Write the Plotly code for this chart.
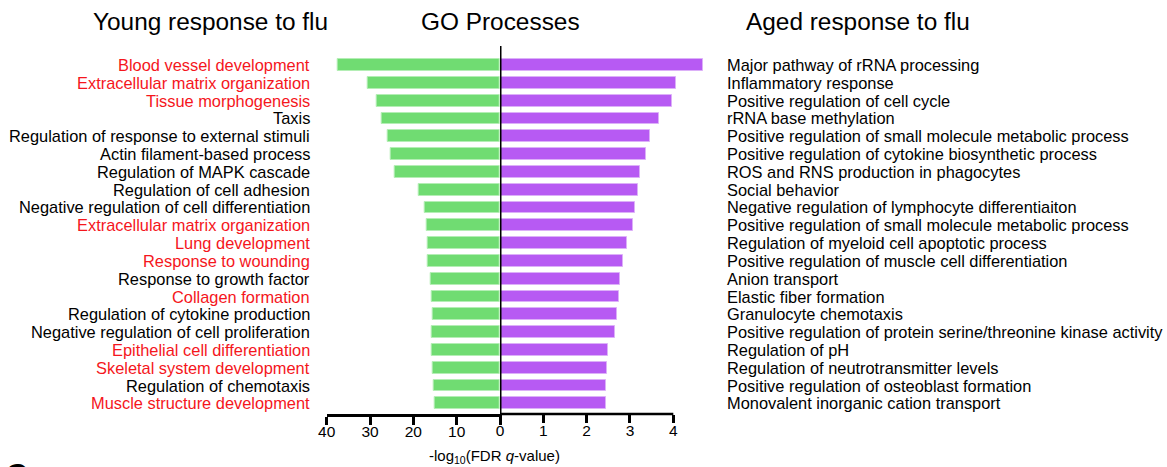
import plotly.graph_objects as go

# GO processes enriched in each age group
young_terms = [
    "Blood vessel development", "Extracellular matrix organization", "Tissue morphogenesis",
    "Taxis", "Regulation of response to external stimuli", "Actin filament-based process",
    "Regulation of MAPK cascade", "Regulation of cell adhesion",
    "Negative regulation of cell differentiation", "Extracellular matrix organization",
    "Lung development", "Response to wounding", "Response to growth factor",
    "Collagen formation", "Regulation of cytokine production",
    "Negative regulation of cell proliferation", "Epithelial cell differentiation",
    "Skeletal system development", "Regulation of chemotaxis", "Muscle structure development",
]
young_highlight = [True, True, True, False, False, False, False, False, False, True,
                   True, True, False, True, False, False, True, True, False, True]
young_values = [37.5, 30.5, 28.5, 27.2, 25.9, 25.3, 24.4, 18.8, 17.4, 17.0,
                16.7, 16.7, 15.9, 15.8, 15.6, 15.8, 15.8, 15.5, 15.3, 15.1]

aged_terms = [
    "Major pathway of rRNA processing", "Inflammatory response",
    "Positive regulation of cell cycle", "rRNA base methylation",
    "Positive regulation of small molecule metabolic process",
    "Positive regulation of cytokine biosynthetic process",
    "ROS and RNS production in phagocytes", "Social behavior",
    "Negative regulation of lymphocyte differentiaiton",
    "Positive regulation of small molecule metabolic process",
    "Regulation of myeloid cell apoptotic process",
    "Positive regulation of muscle cell differentiation", "Anion transport",
    "Elastic fiber formation", "Granulocyte chemotaxis",
    "Positive regulation of protein serine/threonine kinase activity",
    "Regulation of pH", "Regulation of neutrotransmitter levels",
    "Positive regulation of osteoblast formation", "Monovalent inorganic cation transport",
]
aged_values = [4.68, 4.07, 3.97, 3.68, 3.46, 3.38, 3.24, 3.18, 3.11, 3.08,
               2.92, 2.84, 2.78, 2.74, 2.71, 2.65, 2.49, 2.47, 2.45, 2.44]

young_ticks = [40, 30, 20, 10, 0]
aged_ticks = [0, 1, 2, 3, 4]

W, H = 1167, 467
FONT = "Liberation Sans, Arial, sans-serif"
GREEN, GREEN_EDGE = "#70dc72", "#b4eeb5"
PURPLE, PURPLE_EDGE = "#b75af3", "#dcb0f8"
RED = "#f5161c"
LABEL_SIZE = 16.4
TITLE_SIZE = 24.4

rank = list(range(len(young_terms)))

# pixel layout of the two half-axes
x_center = 500.0
left_px = 326.7
px_per_aged = 43.33
aged_max = 4.75
top_px, bottom_px = 46.0, 414.0

fig = go.Figure()
fig.add_trace(go.Bar(
    x=young_values, y=rank, orientation="h", xaxis="x", yaxis="y",
    width=0.67, marker=dict(color=GREEN, line=dict(color=GREEN_EDGE, width=1)),
    hoverinfo="x", showlegend=False,
))
fig.add_trace(go.Bar(
    x=aged_values, y=rank, orientation="h", xaxis="x2", yaxis="y",
    width=0.67, marker=dict(color=PURPLE, line=dict(color=PURPLE_EDGE, width=1)),
    hoverinfo="x", showlegend=False,
))

axis_common = dict(
    showgrid=False, zeroline=False, ticks="outside", ticklen=8, tickwidth=2.5,
    tickcolor="black", tickfont=dict(family=FONT, size=15.5, color="black"),
    ticklabelstandoff=-6, fixedrange=True,
)
fig.update_layout(
    width=W, height=H,
    margin=dict(l=0, r=0, t=top_px, b=H - bottom_px, autoexpand=False),
    paper_bgcolor="white", plot_bgcolor="white",
    bargap=0,
    xaxis=dict(domain=[left_px / W, x_center / W], range=[40, 0],
               tickvals=young_ticks,
               # the shared zero is labelled once, by the right half
               ticktext=[str(v) if v != 0 else " " for v in young_ticks],
               showline=True, linecolor="black", linewidth=2.5, anchor="y",
               **axis_common),
    xaxis2=dict(domain=[x_center / W, (x_center + aged_max * px_per_aged) / W],
                range=[0, aged_max], tickvals=aged_ticks,
                ticktext=[str(v) for v in aged_ticks],
                showline=False, anchor="y", **axis_common),
    yaxis=dict(range=[19.6, -1.07], visible=False, fixedrange=True),
    font=dict(family=FONT, color="black"),
)

shapes = [
    # central divider
    dict(type="line", xref="x2", yref="paper", x0=0, x1=0, y0=0, y1=1,
         line=dict(color="black", width=3)),
    # aged axis line, stopping at the last tick
    dict(type="line", xref="x2", yref="paper", x0=0, x1=aged_ticks[-1], y0=0, y1=0,
         line=dict(color="black", width=2.5)),
]
fig.update_layout(shapes=shapes)

def paper_y(px):
    return (bottom_px - px) / (bottom_px - top_px)

annotations = []
for i, (term, hl) in enumerate(zip(young_terms, young_highlight)):
    annotations.append(dict(
        text=term, x=312 / W, xref="paper", y=i, yref="y",
        xanchor="right", yanchor="middle", showarrow=False,
        font=dict(family=FONT, size=LABEL_SIZE, color=RED if hl else "black"),
    ))
for i, term in enumerate(aged_terms):
    annotations.append(dict(
        text=term, x=725 / W, xref="paper", y=i, yref="y",
        xanchor="left", yanchor="middle", showarrow=False,
        font=dict(family=FONT, size=LABEL_SIZE, color="black"),
    ))

for text, cx in [("Young response to flu", 210.5), ("GO Processes", 500),
                 ("Aged response to flu", 857.5)]:
    annotations.append(dict(
        text=text, x=cx / W, xref="paper", y=paper_y(21), yref="paper",
        xanchor="center", yanchor="middle", showarrow=False,
        font=dict(family=FONT, size=TITLE_SIZE, color="black"),
    ))

annotations.append(dict(
    text="-log<sub>10</sub>(FDR <i>q</i>-value)", x=494 / W, xref="paper",
    y=paper_y(456), yref="paper", xanchor="center", yanchor="middle",
    showarrow=False, font=dict(family=FONT, size=15, color="black"),
))
# panel letter
annotations.append(dict(
    text="<b>C</b>", x=4 / W, xref="paper", y=paper_y(455), yref="paper",
    xanchor="left", yanchor="top", showarrow=False,
    font=dict(family=FONT, size=30, color="black"),
))
fig.update_layout(annotations=annotations)

fig.write_html("out.html")
